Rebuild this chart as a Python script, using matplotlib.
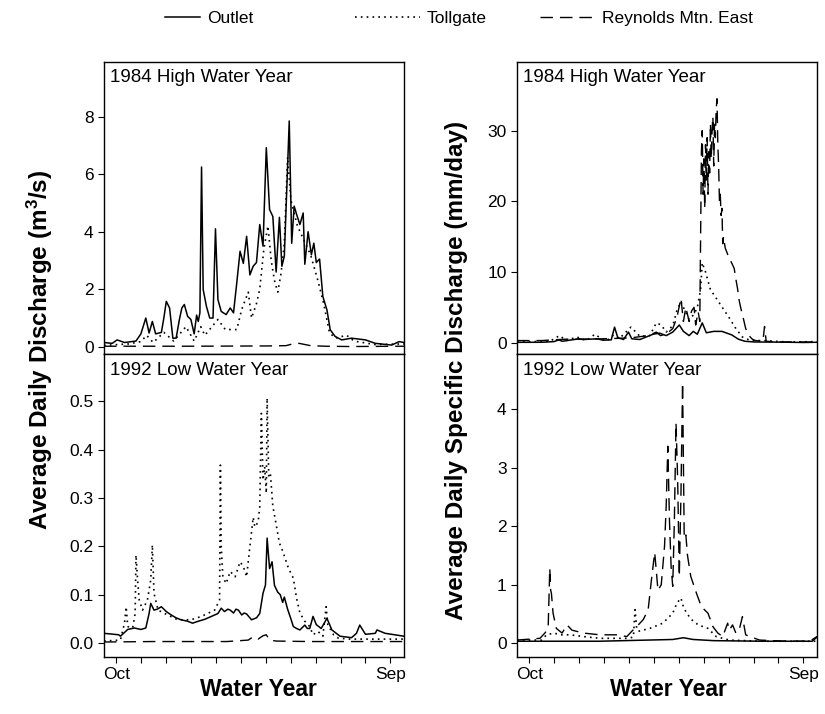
import numpy as np
import matplotlib
matplotlib.use("Agg")
import matplotlib.pyplot as plt
from matplotlib.ticker import FormatStrFormatter
from matplotlib.lines import Line2D

plt.rcParams['font.family'] = ['Liberation Sans', 'DejaVu Sans']
plt.rcParams['mathtext.fontset'] = 'custom'
plt.rcParams['mathtext.rm'] = 'Liberation Sans:bold'
plt.rcParams['mathtext.it'] = 'Liberation Sans:bold'
plt.rcParams['mathtext.bf'] = 'Liberation Sans:bold'

# ---- 1984, discharge (m3/s), day of water year ----
d84_out = [0, 10, 16, 25, 39, 45, 51, 55, 59, 63, 70, 73, 76, 80, 84, 88, 92, 95, 98, 102,
           106, 110, 113, 115, 117, 119, 121, 125, 129, 133, 136, 139, 143, 149, 154, 158, 162, 166, 170, 174,
           178, 182, 186, 190, 194, 198, 202, 206, 210, 214, 217, 220, 226, 229, 232, 235, 239, 243, 245, 249,
           253, 256, 259, 263, 267, 272, 276, 282, 290, 302, 319, 331, 351, 360, 366]
q84_out = [0.15, 0.12, 0.24, 0.15, 0.2, 0.45, 1.0, 0.48, 0.88, 0.45, 0.5, 1.0, 1.58, 1.35, 0.3, 0.3, 0.95, 1.35, 1.47, 1.06,
           0.95, 0.45, 1.1, 0.88, 1.18, 6.25, 1.99, 1.4, 1.0, 1.0, 4.1, 1.64, 1.23, 1.12, 1.35, 1.18, 2.23, 3.32, 2.9, 3.84,
           2.5, 2.8, 2.93, 4.25, 3.5, 6.92, 4.77, 4.53, 2.6, 4.5, 2.8, 3.15, 7.85, 3.6, 4.89, 4.6, 4.25, 4.65, 2.87, 4.0,
           3.2, 3.6, 2.93, 3.05, 1.75, 1.28, 0.59, 0.36, 0.24, 0.3, 0.24, 0.12, 0.06, 0.18, 0.15]

d84_toll = [0, 30, 45, 52, 60, 73, 85, 100, 110, 118, 123, 139, 148, 162, 168, 172, 176, 180, 186, 190,
            195, 200, 204, 208, 212, 216, 220, 224, 228, 236, 244, 252, 261, 268, 275, 282, 296, 305, 330, 366]
q84_toll = [0.05, 0.1, 0.18, 0.4, 0.15, 0.5, 0.2, 0.7, 0.2, 0.7, 0.4, 0.95, 0.6, 0.6, 1.3, 1.6, 1.9, 1.0, 1.5, 2.0,
            3.4, 4.2, 3.0, 2.3, 1.9, 2.55, 3.6, 6.6, 5.1, 4.2, 3.7, 3.2, 2.3, 1.5, 0.5, 0.3, 0.4, 0.2, 0.08, 0.1]

d84_rme = [0, 100, 200, 222, 230, 238, 245, 252, 270, 300, 366]
q84_rme = [0.02, 0.02, 0.03, 0.04, 0.1, 0.12, 0.08, 0.04, 0.02, 0.01, 0.02]

# ---- 1992, discharge (m3/s) ----
d92_out = [0, 18, 20, 29, 37, 45, 51, 55, 57, 61, 65, 70, 76, 82, 88, 94, 102, 108, 115, 123,
           131, 139, 143, 147, 151, 154, 158, 161, 164, 168, 171, 174, 180, 186, 190, 194, 197, 199, 202, 205,
           208, 212, 215, 218, 220, 224, 228, 231, 235, 239, 242, 245, 248, 251, 255, 259, 265, 272, 278, 288,
           302, 308, 312, 319, 331, 333, 343, 366]
q92_out = [0.020, 0.017, 0.014, 0.028, 0.031, 0.028, 0.031, 0.061, 0.082, 0.068, 0.070, 0.075, 0.065, 0.058, 0.052, 0.048, 0.045, 0.041, 0.045, 0.049,
           0.055, 0.061, 0.072, 0.065, 0.07, 0.068, 0.062, 0.07, 0.068, 0.058, 0.062, 0.060, 0.048, 0.052, 0.061, 0.103, 0.12, 0.217, 0.154, 0.168,
           0.119, 0.105, 0.10, 0.084, 0.095, 0.07, 0.05, 0.034, 0.03, 0.027, 0.032, 0.037, 0.03, 0.030, 0.055, 0.038, 0.030, 0.051, 0.027, 0.014,
           0.011, 0.02, 0.037, 0.018, 0.02, 0.027, 0.02, 0.014]

d92_toll = [0, 20, 25, 27, 29, 35, 38, 39, 41, 43, 47, 53, 57, 59, 61, 66, 74, 90, 106, 119,
            135, 141, 142, 143, 145, 149, 154, 160, 166, 170, 174, 178, 182, 184, 188, 190, 192, 194, 196, 198,
            199, 201, 203, 206, 209, 214, 218, 225, 231, 235, 239, 245, 251, 255, 261, 267, 271, 273, 280, 286,
            300, 366]
q92_toll = [0.004, 0.006, 0.041, 0.075, 0.034, 0.031, 0.061, 0.182, 0.13, 0.089, 0.068, 0.089, 0.13, 0.203, 0.103, 0.068, 0.061, 0.048, 0.048, 0.055,
            0.068, 0.089, 0.368, 0.2, 0.137, 0.123, 0.148, 0.137, 0.168, 0.158, 0.137, 0.2, 0.26, 0.24, 0.25, 0.282, 0.475, 0.337, 0.365, 0.31,
            0.507, 0.344, 0.35, 0.283, 0.255, 0.207, 0.19, 0.155, 0.134, 0.092, 0.062, 0.045, 0.034, 0.017, 0.024, 0.014, 0.075, 0.038, 0.017, 0.01,
            0.008, 0.008]

d92_rme = [0, 60, 150, 176, 182, 188, 194, 198, 202, 210, 250, 366]
q92_rme = [0.002, 0.003, 0.003, 0.006, 0.013, 0.008, 0.015, 0.017, 0.006, 0.004, 0.003, 0.003]

# ---- 1984, specific discharge (mm/day) ----
d84s_out = [0, 30, 45, 51, 55, 76, 80, 98, 105, 115, 119, 123, 130, 136, 140, 150, 166, 174, 182, 190,
            198, 203, 210, 215, 220, 226, 231, 240, 250, 262, 270, 278, 290, 320, 350, 366]
s84_out = [0.05, 0.06, 0.15, 0.4, 0.2, 0.55, 0.45, 0.55, 0.35, 0.4, 2.2, 0.7, 0.45, 1.5, 0.55, 0.45, 1.2, 1.35, 1.0, 1.5,
           2.5, 1.6, 1.0, 1.6, 1.2, 2.8, 1.4, 1.6, 1.6, 1.1, 0.5, 0.2, 0.1, 0.08, 0.03, 0.06]

d84s_toll = [0, 40, 52, 60, 73, 85, 95, 100, 110, 118, 125, 139, 150, 162, 170, 176, 182, 190, 195, 200,
             205, 210, 216, 220, 224, 226, 230, 236, 243, 251, 259, 267, 275, 285, 300, 330, 366]
s84_toll = [0.1, 0.2, 1.0, 0.3, 0.8, 0.3, 1.2, 0.8, 0.3, 1.1, 0.6, 2.2, 0.9, 1.0, 2.8, 2.5, 1.5, 2.4, 4.5, 5.8,
            4.5, 3.3, 4.0, 5.0, 7.5, 11.3, 10.0, 7.5, 6.3, 4.9, 3.5, 2.0, 0.8, 0.3, 0.3, 0.1, 0.15]

d84s_rme = [0, 30, 60, 90, 120, 140, 160, 170, 175, 182, 190, 195, 200, 203, 206, 210, 213, 216, 218, 221,
            223, 225, 226, 227, 228, 229, 230, 231, 232, 233, 234, 235, 236, 237, 238, 239, 240, 241, 242, 243,
            244, 245, 246, 247, 248, 249, 250, 251, 252, 254, 257, 259, 261, 263, 265, 267, 269, 271, 273, 276,
            279, 283, 287, 291, 300, 302, 304, 320, 366]
s84_rme = [0.3, 0.3, 0.5, 0.5, 0.6, 0.7, 1.0, 1.5, 1.0, 1.2, 2.0, 3.5, 6.3, 3.0, 5.0, 3.0, 4.5, 5.0, 2.5, 4.4,
           3.0, 27, 30, 21, 26, 19, 28, 23, 29, 21, 27, 24, 31, 26, 30, 32, 25, 31, 29, 33,
           34.5, 28, 25, 20, 21, 18, 19, 14, 15, 13.4, 12.5, 12.0, 11.5, 11.0, 10.5, 9.0, 7.7, 6.0, 4.9, 3.5,
           2.0, 1.0, 0.5, 0.3, 0.2, 2.3, 0.2, 0.1, 0.1]

# ---- 1992, specific discharge (mm/day) ----
d92s_out = [0, 100, 160, 190, 203, 215, 240, 300, 360, 366]
s92_out = [0.03, 0.03, 0.05, 0.06, 0.09, 0.06, 0.04, 0.03, 0.03, 0.1]

d92s_toll = [0, 30, 36, 45, 53, 65, 81, 101, 134, 142, 144, 146, 148, 162, 178, 190, 195, 200, 203, 207,
             213, 221, 233, 243, 259, 300, 366]
s92_toll = [0.05, 0.05, 0.14, 0.17, 0.14, 0.14, 0.11, 0.08, 0.08, 0.1, 0.57, 0.25, 0.2, 0.25, 0.34, 0.51, 0.68, 0.77, 0.62, 0.51,
            0.40, 0.31, 0.25, 0.11, 0.05, 0.03, 0.03]

d92s_rme = [0, 28, 34, 38, 40, 41, 42, 44, 48, 55, 61, 67, 81, 101, 122, 134, 140, 146, 154, 160,
            164, 168, 172, 176, 180, 182, 184, 186, 188, 190, 192, 194, 196, 198, 200, 202, 204, 206, 208, 212,
            219, 225, 233, 239, 245, 251, 257, 259, 263, 267, 271, 275, 279, 284, 296, 330, 357, 366]
s92_rme = [0.05, 0.08, 0.17, 0.25, 1.28, 0.91, 0.85, 0.51, 0.25, 0.17, 0.31, 0.22, 0.17, 0.14, 0.14, 0.11, 0.2, 0.28, 0.4, 0.57,
           1.08, 1.55, 0.9, 1.0, 1.66, 2.34, 3.37, 2.1, 1.31, 0.97, 2.1, 3.77, 2.8, 1.14, 2.52, 4.46, 1.79, 1.85, 1.5, 1.14,
           0.85, 0.62, 0.51, 0.28, 0.17, 0.11, 0.34, 0.22, 0.31, 0.17, 0.22, 0.45, 0.14, 0.11, 0.05, 0.03, 0.03, 0.11]

month_ticks = [15 + 30.4 * k for k in range(12)]
month_labels = ['Oct'] + [''] * 10 + ['Sep']

sty_out = dict(color='black', lw=1.1, linestyle='-')
sty_toll = dict(color='black', lw=1.2, linestyle=(0, (1, 2.5)))
sty_rme = dict(color='black', lw=1.0, linestyle=(0, (9, 5)))

fig = plt.figure(figsize=(8.25, 7.14), dpi=100)

def panel(rect, series, ylim, yticks, title, bottom, fmt=None):
    ax = fig.add_axes(rect)
    for d, v, s in series:
        ax.plot(d, v, **s)
    ax.set_xlim(0, 366)
    ax.set_ylim(*ylim)
    ax.set_yticks(yticks)
    if fmt:
        ax.yaxis.set_major_formatter(FormatStrFormatter(fmt))
    ax.tick_params(axis='y', direction='out', length=4, labelsize=12.5, width=0.8)
    if bottom:
        ax.set_xticks(month_ticks)
        ax.set_xticklabels(month_labels)
        ax.tick_params(axis='x', direction='out', length=4, labelsize=12.5, width=0.8)
    else:
        ax.set_xticks([])
    for sp in ax.spines.values():
        sp.set_linewidth(1.0)
    ax.text(0.02, 0.975, title, transform=ax.transAxes, ha='left', va='top', fontsize=13.5)
    return ax

lx, rx, w = 104 / 825, 517 / 825, 300 / 825
yt, ym, yb = 1 - 62 / 714, 1 - 354 / 714, 1 - 657 / 714

panel([lx, ym, w, yt - ym],
      [(d84_rme, q84_rme, sty_rme), (d84_toll, q84_toll, sty_toll), (d84_out, q84_out, sty_out)],
      (-0.25, 9.9), [0, 2, 4, 6, 8], '1984 High Water Year', False)
panel([lx, yb, w, ym - yb],
      [(d92_rme, q92_rme, sty_rme), (d92_toll, q92_toll, sty_toll), (d92_out, q92_out, sty_out)],
      (-0.029, 0.598), [0, 0.1, 0.2, 0.3, 0.4, 0.5], '1992 Low Water Year', True, '%.1f')
panel([rx, ym, w, yt - ym],
      [(d84s_rme, s84_rme, sty_rme), (d84s_toll, s84_toll, sty_toll), (d84s_out, s84_out, sty_out)],
      (-1.6, 39.7), [0, 10, 20, 30], '1984 High Water Year', False)
panel([rx, yb, w, ym - yb],
      [(d92s_rme, s92_rme, sty_rme), (d92s_toll, s92_toll, sty_toll), (d92s_out, s92_out, sty_out)],
      (-0.24, 4.95), [0, 1, 2, 3, 4], '1992 Low Water Year', True)

fig.text(40 / 825, 1 - 350 / 714, 'Average Daily Discharge (m$^3$/s)', rotation=90,
         ha='center', va='center', fontsize=17.5, fontweight='bold')
fig.text(457 / 825, 1 - 370 / 714, 'Average Daily Specific Discharge (mm/day)', rotation=90,
         ha='center', va='center', fontsize=17.5, fontweight='bold')
fig.text(258 / 825, 1 - 690 / 714, 'Water Year', ha='center', va='center', fontsize=16.5, fontweight='bold')
fig.text(668 / 825, 1 - 690 / 714, 'Water Year', ha='center', va='center', fontsize=16.5, fontweight='bold')

# legend along the top
for label, sty, x0, hl in [('Outlet', sty_out, 165, 2.0), ('Tollgate', sty_toll, 355, 3.75),
                           ('Reynolds Mtn. East', sty_rme, 540, 3.15)]:
    h = Line2D([], [], **sty)
    fig.legend(handles=[h], labels=[label], loc='center left', bbox_to_anchor=(x0 / 825, 1 - 18 / 714),
               frameon=False, fontsize=12.5, handlelength=hl, handletextpad=0.4, borderpad=0, borderaxespad=0)

fig.savefig('out.png', dpi=100)
